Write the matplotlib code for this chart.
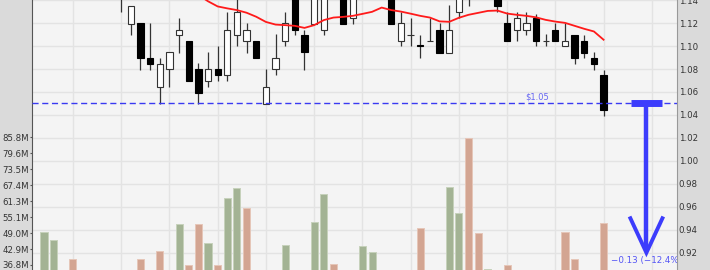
import numpy as np
import matplotlib.pyplot as plt

# daily bars (index 0 = first bar in view); prices above ~1.14 are cut off in the chart
opens = [1.170, 1.175, 1.180, 1.178, 1.168, 1.172, 1.165, 1.155, 1.152, 1.1196,
         1.120, 1.0896, 1.064, 1.0797, 1.1095, 1.1046, 1.0797, 1.0693, 1.0797, 1.0745,
         1.1095, 1.1043, 1.1046, 1.0497, 1.0797, 1.1043, 1.150, 1.1095, 1.1196, 1.1144,
         1.160, 1.150, 1.1246, 1.145, 1.155, 1.160, 1.152, 1.1043, 1.1095, 1.1005,
         1.1043, 1.1144, 1.0942, 1.1298, 1.150, 1.150, 1.146, 1.148, 1.120, 1.1144,
         1.1144, 1.1243, 1.1043, 1.1144, 1.0997, 1.1095, 1.1046, 1.0896, 1.0745]
highs = [1.180, 1.185, 1.190, 1.182, 1.178, 1.180, 1.170, 1.165, 1.158, 1.1347,
         1.120, 1.120, 1.0896, 1.0944, 1.1243, 1.1046, 1.0849, 1.0944, 1.0997, 1.1298,
         1.146, 1.120, 1.1046, 1.080, 1.1104, 1.1298, 1.155, 1.1144, 1.150, 1.152,
         1.165, 1.156, 1.150, 1.160, 1.165, 1.168, 1.158, 1.1298, 1.1246, 1.1095,
         1.1246, 1.120, 1.1360, 1.150, 1.155, 1.156, 1.155, 1.152, 1.1298, 1.1298,
         1.1298, 1.128, 1.1104, 1.120, 1.120, 1.1095, 1.1095, 1.0944, 1.0794]
lows = [1.160, 1.165, 1.170, 1.165, 1.160, 1.162, 1.150, 1.148, 1.1298, 1.1095,
        1.0794, 1.0794, 1.0497, 1.064, 1.0939, 1.0693, 1.0497, 1.064, 1.0699, 1.0696,
        1.0997, 1.0939, 1.0896, 1.0497, 1.0745, 1.0997, 1.1095, 1.0794, 1.1196, 1.1095,
        1.145, 1.1196, 1.1196, 1.142, 1.148, 1.150, 1.1196, 1.0997, 1.0997, 1.0896,
        1.1043, 1.0942, 1.0942, 1.1243, 1.1347, 1.142, 1.1415, 1.1298, 1.1043, 1.1043,
        1.1095, 1.0997, 1.0997, 1.1043, 1.0997, 1.0844, 1.0896, 1.0794, 1.0395]
closes = [1.175, 1.180, 1.178, 1.168, 1.172, 1.165, 1.155, 1.150, 1.146, 1.1347,
          1.0896, 1.0844, 1.0846, 1.0944, 1.1144, 1.0693, 1.0595, 1.0797, 1.0745, 1.1144,
          1.1298, 1.1144, 1.0896, 1.0647, 1.0896, 1.120, 1.1141, 1.0944, 1.145, 1.148,
          1.150, 1.1196, 1.145, 1.155, 1.160, 1.155, 1.1196, 1.120, 1.1095, 1.1001,
          1.1043, 1.0942, 1.1144, 1.145, 1.145, 1.146, 1.150, 1.1347, 1.1043, 1.1243,
          1.120, 1.1043, 1.1043, 1.1043, 1.1043, 1.0896, 1.0942, 1.0844, 1.0444]

# volume in millions, and whether the bar is drawn green (up) or red (down)
volumes = [49.5, 46.2, 30.0, 39.05, 31.0, 28.0, 33.0, 27.0, 30.0, 32.0,
           39.05, 33.5, 42.0, 29.0, 52.4, 36.6, 52.6, 45.1, 36.6, 62.5,
           66.2, 58.7, 30.0, 28.0, 31.0, 44.4, 33.0, 27.0, 53.3, 63.9,
           37.3, 30.0, 29.0, 44.0, 41.7, 26.0, 32.0, 30.0, 28.0, 51.0,
           25.0, 31.0, 66.6, 56.7, 85.4, 48.9, 35.2, 30.0, 36.6, 29.0,
           27.0, 33.0, 24.0, 31.0, 49.5, 39.05, 33.0, 30.0, 52.9]
vol_up = [1, 1, 0, 0, 1, 0, 0, 0, 0, 1,
          0, 0, 0, 1, 1, 0, 0, 1, 0, 1,
          1, 0, 0, 0, 1, 1, 0, 0, 1, 1,
          0, 0, 1, 1, 1, 0, 0, 1, 0, 0,
          1, 0, 1, 1, 0, 0, 1, 0, 0, 1,
          0, 0, 0, 0, 0, 0, 0, 0, 0]

# moving average (only the visible part)
ma = [np.nan] * 16 + [1.1445, 1.1390, 1.1345, 1.1328, 1.1313, 1.1290, 1.1255, 1.1210,
      1.1187, 1.1182, 1.1176, 1.1158, 1.1182, 1.1226, 1.1248, 1.1254, 1.1263, 1.1280,
      1.1298, 1.1335, 1.1313, 1.1300, 1.1282, 1.1263, 1.1248, 1.1215, 1.1211, 1.1246,
      1.1272, 1.1289, 1.1306, 1.1309, 1.1283, 1.1272, 1.1263, 1.1250, 1.1228, 1.1213,
      1.1202, 1.1176, 1.1150, 1.1127, 1.1055]

price_ticks = [0.92, 0.94, 0.96, 0.98, 1.00, 1.02, 1.04, 1.06, 1.08, 1.10, 1.12, 1.14]
vol_ticks = [36.75, 42.875, 49.0, 55.125, 61.25, 67.375, 73.5, 79.625, 85.75]
vol_tick_labels = ['36.8M', '42.9M', '49.0M', '55.1M', '61.3M', '67.4M', '73.5M', '79.6M', '85.8M']
week_lines = list(range(3, 64, 5))

level = 1.05
target = 0.92
target_x = 62.44

opens = np.array(opens)
highs = np.array(highs)
lows = np.array(lows)
closes = np.array(closes)
x = np.arange(len(opens))

fig = plt.figure(figsize=(7.1, 2.7), dpi=100, facecolor='#dadada')
ax = fig.add_axes([31.5 / 710, 0, 645.2 / 710, 1])
ax.set_facecolor('#f4f4f4')
axv = ax.twinx()

# grid
ax.set_xticks(week_lines)
ax.set_yticks(price_ticks)
ax.grid(True, color='#e3e3e3', lw=1.0, zorder=0)
ax.set_axisbelow(True)

# volume bars
vcol = ['#a3b394' if u else '#d3a592' for u in vol_up]
vedge = ['#c6d1bb' if u else '#e6c6b8' for u in vol_up]
axv.bar(x, volumes, width=0.73, color=vcol, edgecolor=vedge, lw=0.7)

# candles
up = closes >= opens
ax.vlines(x, lows, highs, color='#333333', lw=0.9, zorder=2)
body_lo = np.minimum(opens, closes)
body_h = np.abs(closes - opens)
ax.bar(x[up], body_h[up], bottom=body_lo[up], width=0.65,
       color='white', edgecolor='#333333', lw=0.8, zorder=3)
ax.bar(x[~up], body_h[~up], bottom=body_lo[~up], width=0.65,
       color='black', edgecolor='black', lw=0.8, zorder=3)

# moving average
ax.plot(x, ma, color='#ff1a1a', lw=1.3, zorder=4)

# price level
ax.axhline(level, color='#3a3af2', lw=1.0, ls=(0, (4.4, 2.6)), zorder=4)
ax.text(51.15, level + 0.0015, '\\$%.2f' % level, ha='center', va='bottom',
        fontsize=6, color='#6666f2', zorder=5)

# target arrow
blue = '#3c3cfc'
ax.plot([target_x - 1.58, target_x + 1.62], [level, level], color=blue, lw=5,
        solid_capstyle='butt', zorder=5)
ax.plot([target_x, target_x], [level, target + 0.002], color=blue, lw=3.2,
        solid_capstyle='butt', zorder=5)
ax.plot([target_x - 1.66, target_x, target_x + 1.66], [target + 0.03, target, target + 0.03],
        color=blue, lw=2.8, solid_joinstyle='miter', zorder=5)
chg = target - level
ax.text(target_x, target - 0.0065,
        '\u2212%.2f (\u2212%.1f%%)' % (abs(chg), abs(chg) / level * 100),
        ha='center', va='center', fontsize=6.3, color='#5555f5', clip_on=True, zorder=5)

# limits
ax.set_xlim(-1.296, 65.58)
ax.set_ylim(0.90495, 1.1401)
axv.set_ylim(34.83, 138.44)

# axes styling
ax.yaxis.tick_right()
axv.yaxis.tick_left()
ax.tick_params(axis='x', length=0, labelbottom=False)
ax.tick_params(axis='y', length=0, pad=1.5, labelsize=6.2, labelcolor='#333333')
ax.yaxis.set_major_formatter(plt.FormatStrFormatter('%.2f'))
axv.set_yticks(vol_ticks)
axv.set_yticklabels(vol_tick_labels)
axv.tick_params(axis='y', length=1.5, width=0.8, color='#555555', pad=0.5,
                labelsize=6.2, labelcolor='#333333')
for s in ['top', 'bottom']:
    ax.spines[s].set_visible(False)
for s in axv.spines.values():
    s.set_visible(False)
ax.spines['left'].set_color('#555555')
ax.spines['right'].set_color('#999999')

fig.savefig('out.png', dpi=100, facecolor=fig.get_facecolor())
